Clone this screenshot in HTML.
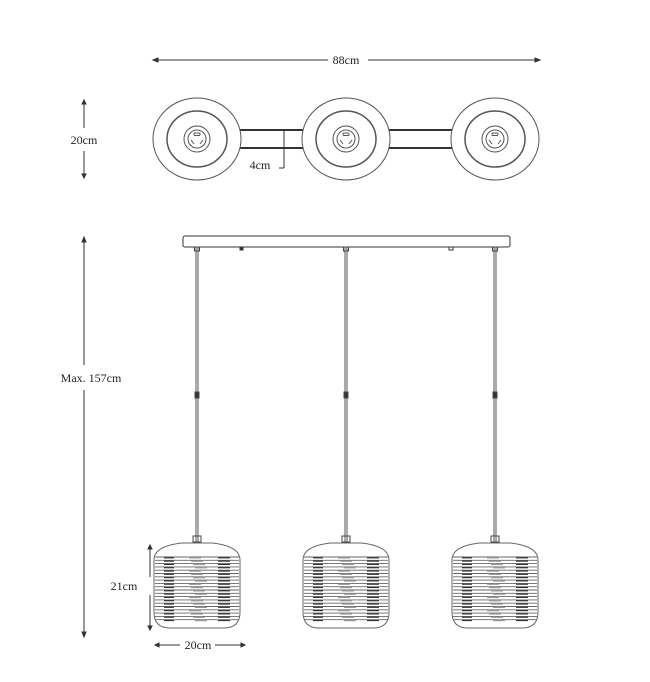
<!DOCTYPE html>
<html><head><style>
html,body{margin:0;padding:0;background:#fff;}
text{font-family:"Liberation Serif",serif;font-size:12px;fill:#222;}
</style></head><body>
<svg id="s" width="650" height="677" viewBox="0 0 650 677" xmlns="http://www.w3.org/2000/svg">
<g stroke="#333" fill="none" stroke-width="1">
<line x1="153" y1="60" x2="328" y2="60"/><line x1="368" y1="60" x2="540" y2="60"/>
<path d="M153 60 l5 -2 v4z M540 60 l-5 -2 v4z" fill="#333"/>
<line x1="84" y1="100" x2="84" y2="128"/><line x1="84" y1="151" x2="84" y2="178"/>
<line x1="84" y1="237" x2="84" y2="365"/><line x1="84" y1="390" x2="84" y2="637"/>
<path d="M84 237 l-2 5 h4z M84 637 l-2 -5 h4z M84 100 l-2 4 h4z M84 178 l-2 -4 h4z" fill="#333"/>
<line x1="150" y1="545" x2="150" y2="577"/><line x1="150" y1="595" x2="150" y2="630"/>
<path d="M150 545 l-2 4 h4z M150 630 l-2 -4 h4z" fill="#333"/>
<line x1="155" y1="645" x2="180" y2="645"/><line x1="215" y1="645" x2="245" y2="645"/>
<path d="M155 645 l4 -2 v4z M245 645 l-4 -2 v4z" fill="#333"/>
<line x1="240" y1="130" x2="303" y2="130" stroke-width="2"/><line x1="240" y1="148" x2="303" y2="148" stroke-width="2"/>
<line x1="389" y1="130" x2="452" y2="130" stroke-width="2"/><line x1="389" y1="148" x2="452" y2="148" stroke-width="2"/>
<line x1="284" y1="131" x2="284" y2="168"/><line x1="284" y1="168" x2="279" y2="168"/>
<rect x="183" y="236" width="327" height="11" rx="2"/>
<rect x="240" y="247" width="3" height="3" fill="#333"/>
<rect x="449" y="247" width="4" height="3"/>
</g>
<g id="topv" stroke="#555" fill="none"></g>
<g id="lamps" stroke="#444" fill="none"></g>
<text x="346" y="64" text-anchor="middle">88cm</text>
<text x="84" y="144" text-anchor="middle">20cm</text>
<text x="260" y="169" text-anchor="middle">4cm</text>
<text x="91" y="382" text-anchor="middle">Max. 157cm</text>
<text x="124" y="590" text-anchor="middle">21cm</text>
<text x="198" y="649" text-anchor="middle">20cm</text>
</svg>
<script>
(function(){
var NS="http://www.w3.org/2000/svg";
function el(p,t,a){var e=document.createElementNS(NS,t);for(var k in a)e.setAttribute(k,a[k]);p.appendChild(e);return e;}
var T=document.getElementById('topv'),L=document.getElementById('lamps');
[197,346,495].forEach(function(cx){
 el(T,'ellipse',{cx:cx,cy:139,rx:44,ry:41});
 el(T,'ellipse',{cx:cx,cy:139,rx:30,ry:28,'stroke-width':1.5});
 el(T,'circle',{cx:cx,cy:139,r:13});
 el(T,'circle',{cx:cx,cy:139,r:9});
 el(T,'rect',{x:cx-3,y:133,width:6,height:2.5,rx:1});
 el(T,'path',{d:'M'+(cx-6)+' 140 l3 4 M'+(cx+6)+' 140 l-3 4'});
 el(L,'line',{x1:cx-1,y1:247,x2:cx-1,y2:542,stroke:'#555'});
 el(L,'line',{x1:cx+1,y1:247,x2:cx+1,y2:542,stroke:'#555'});
 el(L,'rect',{x:cx-2.5,y:247,width:5,height:4});
 el(L,'rect',{x:cx-2,y:392,width:4,height:6,fill:'#333'});
 var l=cx-43,r=cx+43;
 el(L,'rect',{x:cx-4,y:536,width:8,height:6});
 el(L,'path',{d:'M'+(cx-15)+' 543 h30 M'+l+' 560 Q'+l+' 546 '+(cx-15)+' 543 M'+r+' 560 Q'+r+' 546 '+(cx+15)+' 543 M'+l+' 560 V612 Q'+l+' 628 '+(l+16)+' 628 H'+(r-16)+' Q'+r+' 628 '+r+' 612 V560',stroke:'#666'});
 for(var i=0;i<20;i++){var y=557+i*3.3;
  el(L,'line',{x1:l+1,y1:y,x2:r-1,y2:y,'stroke-width':0.9,stroke:'#666'});
  el(L,'line',{x1:l+10,y1:y+0.8,x2:l+20,y2:y+0.8,'stroke-width':1.2,stroke:'#333'});
  el(L,'line',{x1:cx-8+(i%4)*2,y1:y+0.8,x2:cx+4+(i%4)*2,y2:y+0.8,'stroke-width':1.4,stroke:'#999'});
  el(L,'line',{x1:r-22,y1:y+0.8,x2:r-10,y2:y+0.8,'stroke-width':1.2,stroke:'#333'});
 }
});
})();
</script>
</body></html>
